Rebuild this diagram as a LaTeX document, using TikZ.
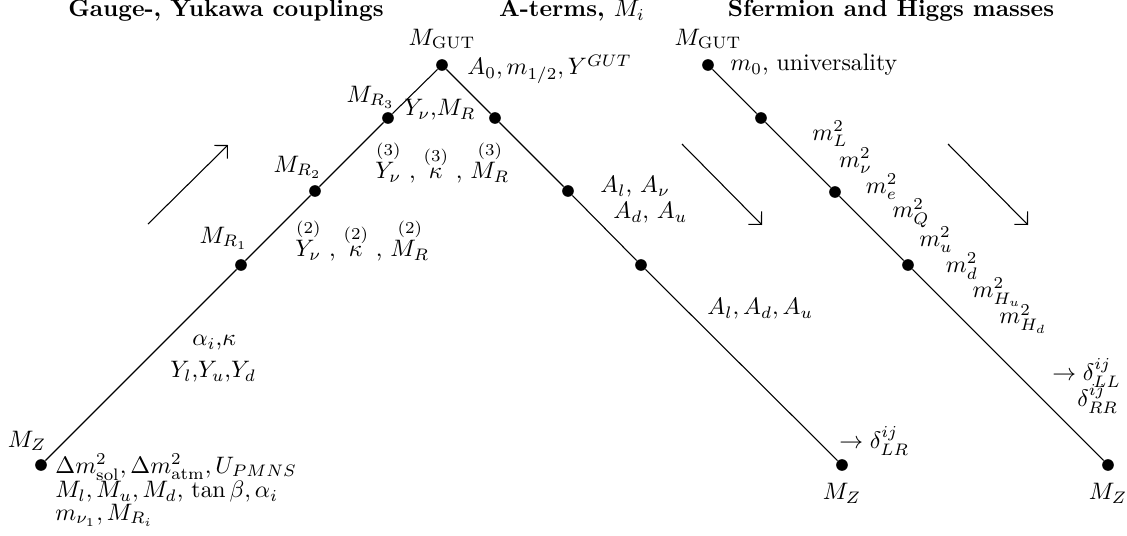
\documentclass[tikz,border=0pt]{standalone}
\usepackage{amsmath}
\usetikzlibrary{arrows.meta,positioning}

\begin{document}
\begin{tikzpicture}[
  x=0.42pt, y=-0.42pt,
  >={Straight Barb[angle=90:5.5pt]},
  scalept/.style={circle, fill=black, inner sep=0pt, minimum size=4.9pt},
  runtxt/.style={inner sep=0pt, anchor=west},
  heading/.style={inner sep=0pt, font=\bfseries},
  runline/.style={line width=0.45pt},
  flow/.style={->, line width=0.45pt},
]
\useasboundingbox (0,0) rectangle (1127,535);
% headings
\node[heading] (hgauge) at (226,11) {Gauge-, Yukawa couplings};
\node[heading] (hatrm) at (572,11) {A-terms, $M_i$};
\node[heading] (hsfer) at (891,11) {Sfermion and Higgs masses};

% couplings (up) and A-terms (down)
\node[scalept] (gut) at (442,65) {};
\node[scalept] (mz) at (41,465) {};
\node[scalept] (r1) at (241,265) {};
\node[scalept] (r2) at (315,191) {};
\node[scalept] (r3) at (388,118) {};
\node[scalept] (a3) at (495,118) {};
\node[scalept] (a2) at (568,191) {};
\node[scalept] (a1) at (641,265) {};
\node[scalept] (mza) at (842,465) {};
\draw[runline] (mz) -- (r1) -- (r2) -- (r3) -- (gut) -- (a3) -- (a2) -- (a1) -- (mza);

\node[inner sep=0pt, above=4pt of gut] (gutl) {$M_{\mathrm{GUT}}$};
\node[runtxt] (gutv) at (467,69) {$A_0, m_{1/2}, Y^{GUT}$};
\node[inner sep=0pt, anchor=east] (r3l) at (395,97) {$M_{R_3}$};
\node[runtxt] (r3v) at (404,110) {$Y_\nu$,$M_R$};
\node[inner sep=0pt, anchor=east] (r2l) at (322,167) {$M_{R_2}$};
\node[runtxt] (r2v) at (375,162) {$\overset{(3)}{Y_\nu}$ , $\overset{(3)}{\kappa}$ , $\overset{(3)}{M_R}$};
\node[inner sep=0pt, anchor=east] (r1l) at (248,238) {$M_{R_1}$};
\node[runtxt] (r1v) at (295,240) {$\overset{(2)}{Y_\nu}$ , $\overset{(2)}{\kappa}$ , $\overset{(2)}{M_R}$};
\node[runtxt] (lowa) at (192,343) {$\alpha_i$,$\kappa$};
\node[runtxt] (lowy) at (170,372) {$Y_l$,$Y_u$,$Y_d$};
\node[inner sep=0pt] (mzl) at (27,441) {$M_Z$};
\node[runtxt] (inp1) at (55,467) {$\Delta m^2_{\mathrm{sol}}, \Delta m^2_{\mathrm{atm}}, U_{PMNS}$};
\node[runtxt] (inp2) at (55,492) {$M_l, M_u, M_d$, $\tan\beta, \alpha_i$};
\node[runtxt] (inp3) at (55,515) {$m_{\nu_1}, M_{R_i}$};

\node[runtxt] (a3v) at (600,187) {$A_l$, $A_\nu$};
\node[runtxt] (a3w) at (613,213) {$A_d$, $A_u$};
\node[runtxt] (a1v) at (707,309) {$A_l, A_d, A_u$};
\node[runtxt] (dlr) at (839,441) {$\rightarrow \delta^{ij}_{LR}$};
\node[inner sep=0pt, below=5pt of mza] (mzal) {$M_Z$};

% sfermion and Higgs masses
\node[scalept] (sgut) at (708,65) {};
\node[scalept] (s3) at (761,118) {};
\node[scalept] (s2) at (835,192) {};
\node[scalept] (s1) at (908,265) {};
\node[scalept] (smz) at (1108,465) {};
\draw[runline] (sgut) -- (s3) -- (s2) -- (s1) -- (smz);

\node[inner sep=0pt, above=4pt of sgut] (sgutl) {$M_{\mathrm{GUT}}$};
\node[runtxt] (sgutv) at (730,65) {$m_0$, universality};
\foreach \fld [count=\k from 0] in {L,\nu,e,Q,u,d,H_u,H_d}
  \node[runtxt] (msq\k) at (812+26.7*\k, 134+26.4*\k) {$m^2_{\fld}$};
\node[runtxt] (dll) at (1052,373) {$\rightarrow \delta^{ij}_{LL}$};
\node[runtxt] (drr) at (1077,399) {$\delta^{ij}_{RR}$};
\node[inner sep=0pt, below=5pt of smz] (smzl) {$M_Z$};

% running direction
\coordinate (upS) at (148,224);
\coordinate (upE) at (228,145);
\coordinate (dnAS) at (682,144);
\coordinate (dnAE) at (762,225);
\coordinate (dnSS) at (948,144);
\coordinate (dnSE) at (1028,225);
\draw[flow] (upS) -- (upE);
\draw[flow] (dnAS) -- (dnAE);
\draw[flow] (dnSS) -- (dnSE);
\end{tikzpicture}
\end{document}
